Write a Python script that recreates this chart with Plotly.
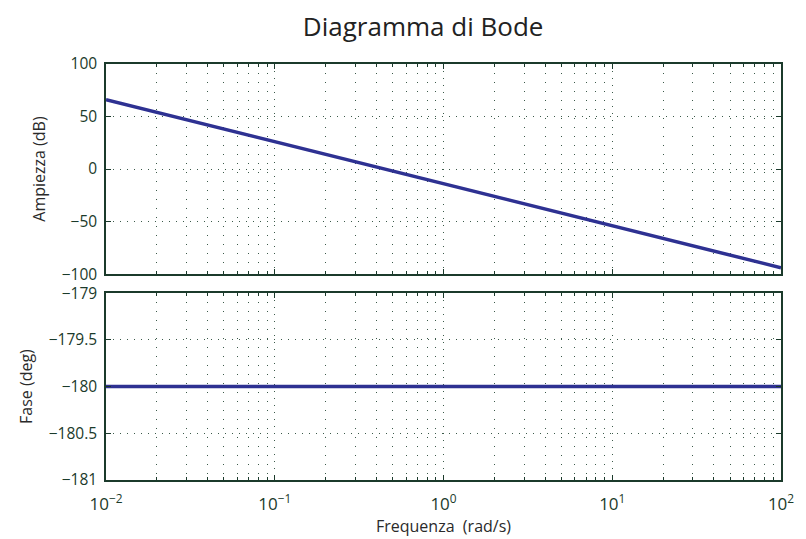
import plotly.graph_objects as go
from plotly.subplots import make_subplots

# Frequency points (rad/s) and the read-off response values
freq = [0.01, 0.1, 1, 10, 100]
magnitude_db = [66, 26, -14, -54, -94]
phase_deg = [-180, -180, -180, -180, -180]

x_ticks = [0.01, 0.1, 1, 10, 100]
x_tick_text = ["10<sup>\u22122</sup>", "10<sup>\u22121</sup>", "10<sup>0</sup>",
               "10<sup>1</sup>", "10<sup>2</sup>"]
mag_ticks = [-100, -50, 0, 50, 100]
mag_tick_text = ["\u2212100", "\u221250", "0", "50", "100"]
phase_ticks = [-181, -180.5, -180, -179.5, -179]
phase_tick_text = ["\u2212181", "\u2212180.5", "\u2212180", "\u2212179.5", "\u2212179"]

# log-decade minor positions (2..9 in every decade)
minor_x = [m * 10.0 ** d for d in range(-2, 2) for m in range(2, 10)]

LINE = "#2e3192"
AXIS = "#1b3a2b"
GRID = "#3c5a4a"
LABEL = "#2a2a2a"
FONT = "Open Sans"

fig = make_subplots(rows=2, cols=1, shared_xaxes=True, vertical_spacing=0.046)

fig.add_trace(go.Scatter(x=freq, y=magnitude_db, mode="lines",
                         line=dict(color=LINE, width=3.5), showlegend=False), row=1, col=1)
fig.add_trace(go.Scatter(x=freq, y=phase_deg, mode="lines",
                         line=dict(color=LINE, width=3.5), showlegend=False), row=2, col=1)

xcommon = dict(type="log", range=[-2, 2], tickmode="array", tickvals=x_ticks,
               showline=True, linecolor=AXIS, linewidth=1.5, mirror="allticks",
               ticks="inside", ticklen=5, tickcolor=AXIS,
               showgrid=True, gridcolor=GRID, griddash="1px,6px", gridwidth=1, zeroline=False,
               minor=dict(tickmode="array", tickvals=minor_x, showgrid=True, gridcolor=GRID,
                          griddash="1px,8px", gridwidth=1,
                          ticks="inside", ticklen=3, tickcolor=AXIS))
fig.update_xaxes(**xcommon)
fig.update_xaxes(showticklabels=False, row=1, col=1)
fig.update_xaxes(ticktext=x_tick_text, ticklabelstandoff=8,
                 tickfont=dict(size=17, color=AXIS, family=FONT),
                 title=dict(text="Frequenza&nbsp;&nbsp;(rad/s)",
                            font=dict(size=16, color=LABEL, family=FONT), standoff=0),
                 row=2, col=1)

ycommon = dict(showline=True, linecolor=AXIS, linewidth=1.5, mirror="allticks", ticks="inside",
               ticklen=5, tickcolor=AXIS, showgrid=True, gridcolor=GRID, griddash="1px,6px",
               gridwidth=1, zeroline=False, ticklabelstandoff=4,
               tickfont=dict(size=15.5, color=AXIS, family=FONT))
fig.update_yaxes(**ycommon)
fig.update_yaxes(range=[-100, 100], tickmode="array", tickvals=mag_ticks, ticktext=mag_tick_text,
                 title=dict(text="Ampiezza (dB)", font=dict(size=16, color=LABEL, family=FONT),
                            standoff=12),
                 row=1, col=1)
fig.update_yaxes(range=[-181, -179], tickmode="array", tickvals=phase_ticks,
                 ticktext=phase_tick_text,
                 title=dict(text="Fase (deg)", font=dict(size=16, color=LABEL, family=FONT),
                            standoff=12),
                 row=2, col=1)

fig.update_layout(
    width=806, height=539,
    margin=dict(l=106, r=15, t=64, b=59),
    paper_bgcolor="white", plot_bgcolor="white",
    title=dict(text="Diagramma di Bode", x=0.525, xanchor="center", y=0.95, yanchor="middle",
               font=dict(size=26, color="#222222", family=FONT)),
)
fig.update_layout(yaxis=dict(domain=[0.495, 1.0]), yaxis2=dict(domain=[0.0, 0.449]))

fig.write_html("out.html")
